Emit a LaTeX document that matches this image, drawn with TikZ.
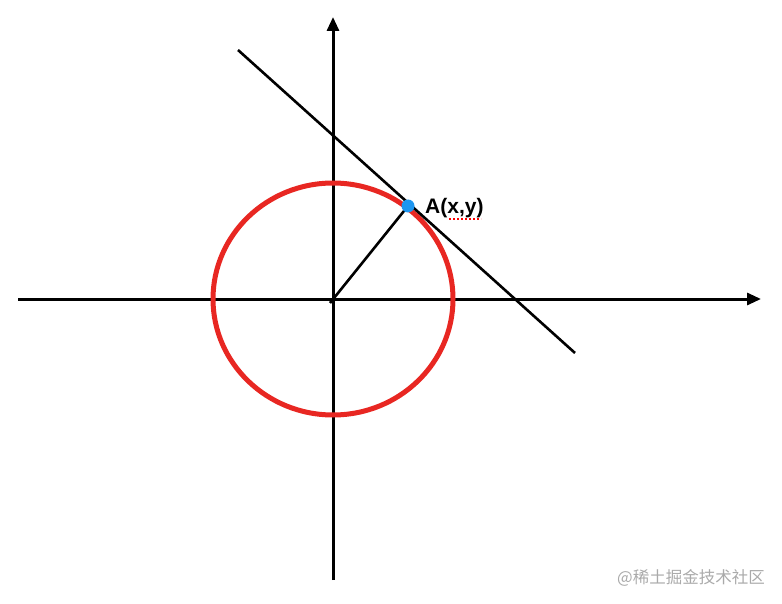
\documentclass[tikz,border=0pt]{standalone}
\usepackage{fontspec}
\setmainfont{Liberation Sans}
\newfontfamily\cjk{Noto Sans CJK SC}
\usetikzlibrary{calc, arrows.meta}

\begin{document}
\begin{tikzpicture}[x=1pt, y=-1pt, font=\sffamily,
    axis/.style={line width=3pt, -{Triangle[length=14pt, width=12pt]}},
    blackline/.style={line width=2.6pt}]

    % 0. Fix the canvas
    \useasboundingbox (0,0) rectangle (782,604);

    % 1. Define the origin and the point A
    \coordinate (O) at (333,299);
    \coordinate (A) at (408,206);

    % 2. Draw the axes
    \coordinate (Xl) at (18,299);
    \coordinate (Xr) at (761,299);
    \coordinate (Yb) at (333,580);
    \coordinate (Yt) at (333,17);
    \draw[axis] (Xl) -- (Xr);
    \draw[axis] (Yb) -- (Yt);

    % 3. Draw the circle
    \draw[line width=5pt, draw={rgb,255:red,232;green,39;blue,34}]
        (O) ellipse [x radius=120, y radius=116];

    % 4. Draw the tangent line through A
    \coordinate (T1) at (238,50);
    \coordinate (T2) at (575,353);
    \draw[blackline] (T1) -- (T2);

    % 5. Draw the radius
    \draw[blackline] ($(O)+(-3,4)$) -- (A);

    % 6. Plot the point and label it
    \fill[fill={rgb,255:red,30;green,150;blue,240}] (A) circle (6.5);
    \node[anchor=base west, inner sep=0pt, font=\fontsize{21}{24}\bfseries] (Alab)
        at (425,214) {A(x,y)};
    \draw[red, line width=1.5pt, dash pattern=on 2pt off 2pt] (449,219) -- (481,219);

    % 7. Watermark
    \node[anchor=base east, inner sep=0pt, text={rgb,255:red,170;green,170;blue,170},
        font=\cjk\fontsize{16.5}{18}\selectfont] (wm) at (765,583) {@稀土掘金技术社区};
\end{tikzpicture}
\end{document}
